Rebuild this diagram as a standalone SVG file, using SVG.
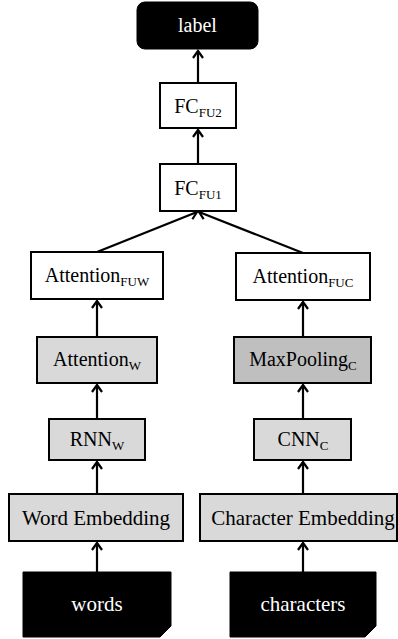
<svg xmlns="http://www.w3.org/2000/svg" width="398" height="639" viewBox="0 0 398 639">
<style>
.box{fill:#fff;stroke:#000;stroke-width:2}
.g1{fill:#d9d9d9;stroke:#000;stroke-width:2}
.g2{fill:#bfbfbf;stroke:#000;stroke-width:2}
.blk{fill:#000;stroke:#000;stroke-width:1}
text{font-family:"Liberation Serif","Times New Roman",serif;font-size:20px;fill:#000;text-anchor:middle}
.w{fill:#fff}
.sub{font-size:13px}
.con{stroke:#000;stroke-width:2.2;fill:none;marker-end:url(#ah)}
</style>
<defs>
<marker id="ah" markerUnits="userSpaceOnUse" markerWidth="14" markerHeight="14" refX="10" refY="7" orient="auto" viewBox="0 0 14 14">
<path d="M3,2 L10,7 L3,12" fill="none" stroke="#000" stroke-width="2.2"/>
</marker>
</defs>
<g id="connectors">
<line class="con" x1="198" y1="83" x2="198" y2="51"/>
<line class="con" x1="198" y1="164" x2="198" y2="130"/>
<line class="con" x1="97" y1="252" x2="197" y2="212"/>
<line class="con" x1="303" y1="253" x2="199" y2="212"/>
<line class="con" x1="97" y1="337" x2="97" y2="301"/>
<line class="con" x1="97" y1="419" x2="97" y2="385"/>
<line class="con" x1="97" y1="494" x2="97" y2="462"/>
<line class="con" x1="97" y1="572" x2="97" y2="543"/>
<line class="con" x1="303" y1="337" x2="303" y2="302"/>
<line class="con" x1="303" y1="419" x2="303" y2="385"/>
<line class="con" x1="303" y1="494" x2="303" y2="462"/>
<line class="con" x1="303" y1="572" x2="303" y2="543"/>
</g>
<g id="label">
<rect class="blk" x="137" y="2" width="121" height="47" rx="8"/>
<text class="w" x="197.5" y="32">label</text>
</g>
<g id="fc_fu2">
<rect class="box" x="160" y="83" width="76" height="45"/>
<text x="198" y="113">FC<tspan class="sub" dy="4">FU2</tspan></text>
</g>
<g id="fc_fu1">
<rect class="box" x="160" y="164" width="76" height="47"/>
<text x="198" y="195">FC<tspan class="sub" dy="4">FU1</tspan></text>
</g>
<g id="attention_fuw">
<rect class="box" x="31" y="252" width="132" height="47"/>
<text x="97" y="282">Attention<tspan class="sub" dy="4">FUW</tspan></text>
</g>
<g id="attention_fuc">
<rect class="box" x="236" y="253" width="134" height="47"/>
<text x="303" y="283">Attention<tspan class="sub" dy="4">FUC</tspan></text>
</g>
<g id="attention_w">
<rect class="g1" x="37" y="337" width="120" height="46"/>
<text x="97" y="366">Attention<tspan class="sub" dy="4">W</tspan></text>
</g>
<g id="maxpooling_c">
<rect class="g2" x="234" y="337" width="137" height="46"/>
<text x="303" y="366">MaxPooling<tspan class="sub" dy="4">C</tspan></text>
</g>
<g id="rnn_w">
<rect class="g1" x="49" y="419" width="96" height="41"/>
<text x="97" y="446">RNN<tspan class="sub" dy="4">W</tspan></text>
</g>
<g id="cnn_c">
<rect class="g1" x="254" y="419" width="97" height="41"/>
<text x="303" y="446">CNN<tspan class="sub" dy="4">C</tspan></text>
</g>
<g id="word_embedding">
<rect class="g1" x="9" y="494" width="174" height="47"/>
<text x="96" y="525" style="font-size:21px">Word Embedding</text>
</g>
<g id="character_embedding">
<rect class="g1" x="200" y="494" width="197" height="47"/>
<text x="303" y="525" style="font-size:21px">Character Embedding</text>
</g>
<g id="words">
<path class="blk" d="M23,572 H171 V626 L160,637 H23 Z"/>
<text class="w" x="97" y="611" style="font-size:21px">words</text>
</g>
<g id="characters">
<path class="blk" d="M230,572 H376 V626 L365,637 H230 Z"/>
<text class="w" x="303" y="611" style="font-size:21px">characters</text>
</g>
</svg>
